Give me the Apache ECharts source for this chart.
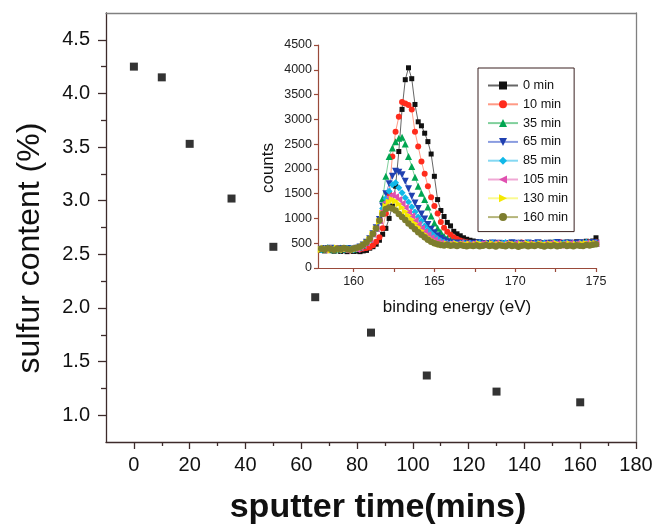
<!DOCTYPE html>
<html>
<head>
<meta charset="utf-8">
<script src="https://cdn.jsdelivr.net/npm/echarts@6/dist/echarts.min.js"></script>
<style>
html,body{margin:0;padding:0;background:#fff;}
#chart{width:658px;height:530px;}
</style>
</head>
<body>
<div id="chart"></div>
<script>
// ---- Main chart data: sulfur content vs sputter time ----
const sputterTime = [0, 10, 20, 35, 50, 65, 85, 105, 130, 160];
const sulfurContent = [4.25, 4.15, 3.53, 3.02, 2.57, 2.10, 1.77, 1.37, 1.22, 1.12];
const mainXTicks = [0, 20, 40, 60, 80, 100, 120, 140, 160, 180];
const mainXMinor = [10, 30, 50, 70, 90, 110, 130, 150, 170];
const mainYTicks = [1.0, 1.5, 2.0, 2.5, 3.0, 3.5, 4.0, 4.5];
const mainYMinor = [1.25, 1.75, 2.25, 2.75, 3.25, 3.75, 4.25];

// ---- Inset data: XPS S2p spectra ----
const insetXTicks = [160, 162.5, 165, 167.5, 170, 172.5, 175];
const insetXLabels = [160, 165, 170, 175];
const seriesNames = ['0 min', '10 min', '35 min', '65 min', '85 min', '105 min', '130 min', '160 min'];
const energy = [
  158,158.2,158.4,158.6,158.8,159,159.2,159.4,159.6,159.8,
  160,160.2,160.4,160.6,160.8,161,161.2,161.4,161.6,161.8,
  162,162.2,162.4,162.6,162.8,163,163.2,163.4,163.6,163.8,
  164,164.2,164.4,164.6,164.8,165,165.2,165.4,165.6,165.8,
  166,166.2,166.4,166.6,166.8,167,167.2,167.4,167.6,167.8,
  168,168.2,168.4,168.6,168.8,169,169.2,169.4,169.6,169.8,
  170,170.2,170.4,170.6,170.8,171,171.2,171.4,171.6,171.8,
  172,172.2,172.4,172.6,172.8,173,173.2,173.4,173.6,173.8,
  174,174.2,174.4,174.6,174.8,175
];
const counts0 = [
  360,345,370,350,340,355,335,350,330,345,
  335,340,330,345,355,400,430,480,560,680,
  800,1000,1250,1650,2350,3200,3800,4040,3820,3300,
  2950,2870,2720,2550,2300,1850,1380,1160,1040,920,
  850,740,690,650,610,580,560,545,530,520,
  510,505,490,500,515,480,495,505,490,470,
  500,485,510,495,480,505,490,515,500,485,
  495,520,505,490,510,500,525,495,510,530,
  505,520,540,515,545,610
];
const counts10 = [
  390,405,375,400,385,370,395,380,365,390,
  375,385,380,395,405,420,460,530,620,800,
  1100,1500,2250,2750,3050,3350,3320,3290,3200,2750,
  2450,2150,1900,1650,1430,1250,1100,930,810,730,
  670,620,585,555,535,520,510,500,490,505,
  480,495,510,485,500,470,495,480,505,490,
  475,500,515,485,495,470,500,490,510,480,
  495,505,485,500,520,490,510,495,480,505,
  515,490,500,525,510,530
];
const counts35 = [
  400,380,410,395,370,385,405,390,375,400,
  385,400,420,460,515,585,690,800,970,1400,
  1850,2250,2420,2550,2620,2640,2500,2250,2050,1830,
  1650,1510,1380,1230,1050,910,800,720,640,600,
  560,530,510,500,490,505,480,495,470,500,
  485,510,475,490,505,480,495,470,500,515,
  485,490,505,480,470,500,495,485,510,490,
  475,500,520,485,495,505,480,510,490,500,
  515,495,485,520,505,500
];
const counts65 = [
  380,395,370,400,385,365,390,375,395,370,
  385,400,425,465,520,590,690,810,980,1250,
  1500,1700,1850,1950,1930,1880,1750,1600,1450,1310,
  1200,1090,990,880,780,710,650,600,560,530,
  510,495,505,485,500,490,475,500,485,510,
  490,470,495,505,480,500,485,470,495,510,
  480,500,490,475,505,485,495,510,480,490,
  500,470,495,515,485,500,490,505,480,495,
  510,485,500,490,515,505
];
const counts85 = [
  370,390,405,380,395,375,360,385,400,380,
  370,395,415,460,510,580,685,800,960,1200,
  1400,1550,1680,1720,1620,1520,1420,1330,1230,1130,
  1030,950,850,770,700,640,590,550,520,500,
  490,505,480,495,510,485,500,470,490,505,
  485,495,475,510,490,480,500,515,485,470,
  495,505,480,490,510,475,495,500,485,505,
  470,490,515,495,480,500,510,485,495,475,
  505,490,520,500,485,510
];
const counts105 = [
  385,365,395,375,400,380,390,370,355,385,
  395,375,410,455,505,575,680,790,950,1150,
  1330,1430,1480,1440,1380,1300,1220,1130,1050,960,
  880,800,730,670,610,570,530,510,490,480,
  495,470,485,500,475,490,480,495,470,485,
  500,465,490,475,505,480,460,495,485,470,
  500,480,490,465,495,485,475,500,470,490,
  480,505,475,495,460,490,485,500,470,495,
  480,490,505,475,500,495
];
const counts130 = [
  375,400,385,360,390,405,380,370,395,385,
  365,390,405,450,500,570,675,785,940,1100,
  1250,1330,1380,1350,1290,1220,1140,1060,980,900,
  820,750,680,620,570,530,500,480,470,485,
  460,475,490,465,480,470,485,460,475,490,
  470,455,480,495,465,475,485,460,470,490,
  475,455,480,465,495,470,480,460,490,475,
  465,485,470,495,460,480,475,490,465,480,
  470,485,495,475,490,500
];
const counts160 = [
  390,375,400,385,365,395,380,405,385,370,
  395,410,430,470,520,590,690,800,960,1090,
  1190,1220,1200,1160,1090,1030,970,900,840,780,
  720,670,620,570,530,500,480,465,455,470,
  450,460,445,465,450,440,455,445,460,440,
  450,465,445,455,435,460,450,440,465,445,
  455,430,450,460,440,455,445,465,450,435,
  455,445,460,440,450,465,445,455,440,460,
  450,445,465,455,470,480
];
const insetCounts = [counts0, counts10, counts35, counts65, counts85, counts105, counts130, counts160];

// ---- Styles ----
const markerColors = ['#111111', '#ff2b1c', '#00a651', '#2040b0', '#10b8e8', '#e050b0', '#f5e800', '#7d7d2e'];
const lineColors = ['#666666', '#ff9a85', '#80d09c', '#8a9ce0', '#85d8f2', '#f0a8d5', '#fafa90', '#b5b57a'];
const symbols = ['rect', 'circle', 'triangle', 'triangle', 'diamond', 'triangle', 'triangle', 'circle'];
const rotations = [0, 0, 0, 180, 0, 90, -90, 0];
const sizes = [5, 6, 7, 7, 7, 7, 7, 6.5];

const FONT = 'Liberation Sans, Arial, Helvetica, sans-serif';
const axisDark = '#3d2b2b';
const insetAxis = '#9a4a3a';

const chart = echarts.init(document.getElementById('chart'), null, {renderer: 'canvas'});

const insetSeries = seriesNames.map((name, k) => ({
  name: name,
  type: 'line',
  xAxisIndex: 3,
  yAxisIndex: 3,
  data: energy.map((e, i) => [e, insetCounts[k][i]]),
  symbol: symbols[k],
  symbolRotate: rotations[k],
  symbolSize: sizes[k],
  showSymbol: true,
  lineStyle: {color: lineColors[k], width: 1},
  itemStyle: {color: markerColors[k]},
  emphasis: {disabled: true}
}));

const option = {
  animation: false,
  backgroundColor: '#ffffff',
  grid: [
    {left: 106, right: 22, top: 13, bottom: 88},
    {left: 318, right: 62, top: 45, bottom: 262}
  ],
  xAxis: [
    { // main bottom axis, major ticks + labels
      gridIndex: 0, type: 'value', min: -10, max: 180, position: 'bottom',
      axisLine: {show: true, onZero: false, lineStyle: {color: axisDark, width: 1.3}},
      axisTick: {show: true, customValues: mainXTicks, length: 7, inside: false, lineStyle: {color: axisDark, width: 1.3}},
      axisLabel: {show: true, customValues: mainXTicks, fontSize: 20, fontFamily: FONT, color: '#111', margin: 13},
      splitLine: {show: false}
    },
    { // main bottom axis, minor ticks
      gridIndex: 0, type: 'value', min: -10, max: 180, position: 'bottom',
      axisLine: {show: false, onZero: false},
      axisTick: {show: true, customValues: mainXMinor, length: 4, lineStyle: {color: axisDark, width: 1.3}},
      axisLabel: {show: false},
      splitLine: {show: false}
    },
    { // top frame
      gridIndex: 0, type: 'value', min: -10, max: 180, position: 'top',
      axisLine: {show: true, onZero: false, lineStyle: {color: '#808080', width: 1.3}},
      axisTick: {show: false}, axisLabel: {show: false}, splitLine: {show: false}
    },
    { // inset x axis
      gridIndex: 1, type: 'value', min: 157.8, max: 175, position: 'bottom',
      axisLine: {show: true, onZero: false, lineStyle: {color: insetAxis, width: 1.2}},
      axisTick: {show: true, customValues: insetXTicks, length: 4, lineStyle: {color: insetAxis, width: 1.2}},
      axisLabel: {show: true, customValues: insetXLabels, fontSize: 12.5, fontFamily: FONT, color: '#222', margin: 7},
      splitLine: {show: false}
    }
  ],
  yAxis: [
    { // main left axis, majors + labels
      gridIndex: 0, type: 'value', min: 0.75, max: 4.75, position: 'left',
      axisLine: {show: true, onZero: false, lineStyle: {color: axisDark, width: 1.3}},
      axisTick: {show: true, customValues: mainYTicks, length: 8, lineStyle: {color: axisDark, width: 1.3}},
      axisLabel: {show: true, customValues: mainYTicks, fontSize: 20, fontFamily: FONT, color: '#111', margin: 16,
        formatter: v => v.toFixed(1)},
      splitLine: {show: false}
    },
    { // main left axis, minor ticks
      gridIndex: 0, type: 'value', min: 0.75, max: 4.75, position: 'left',
      axisLine: {show: false, onZero: false},
      axisTick: {show: true, customValues: mainYMinor, length: 5, lineStyle: {color: axisDark, width: 1.3}},
      axisLabel: {show: false}, splitLine: {show: false}
    },
    { // right frame
      gridIndex: 0, type: 'value', min: 0.75, max: 4.75, position: 'right',
      axisLine: {show: true, onZero: false, lineStyle: {color: '#808080', width: 1.3}},
      axisTick: {show: false}, axisLabel: {show: false}, splitLine: {show: false}
    },
    { // inset y axis
      gridIndex: 1, type: 'value', min: 0, max: 4500, interval: 500, position: 'left',
      axisLine: {show: true, onZero: false, lineStyle: {color: insetAxis, width: 1.2}},
      axisTick: {show: true, length: 4, lineStyle: {color: insetAxis, width: 1.2}},
      axisLabel: {show: true, fontSize: 12.5, fontFamily: FONT, color: '#222', margin: 6,
        formatter: v => String(v)},
      splitLine: {show: false}
    }
  ],
  legend: {
    data: seriesNames,
    orient: 'vertical',
    left: 478, top: 68,
    padding: [11, 6, 8, 9],
    itemWidth: 30, itemHeight: 10, itemGap: 5.8,
    borderColor: '#3a2020', borderWidth: 1,
    backgroundColor: '#ffffff',
    textStyle: {fontSize: 12.7, fontFamily: FONT, color: '#111'},
    selectedMode: false
  },
  graphic: [
    {type: 'text', x: 30, y: 248, rotation: Math.PI / 2,
      style: {text: 'sulfur content (%)', font: '32px ' + FONT, fill: '#111', textAlign: 'center', textVerticalAlign: 'middle'}},
    {type: 'text', x: 378, y: 508,
      style: {text: 'sputter time(mins)', font: 'bold 34px ' + FONT, fill: '#111', textAlign: 'center', textVerticalAlign: 'middle'}},
    {type: 'text', x: 268, y: 168, rotation: Math.PI / 2,
      style: {text: 'counts', font: '17px ' + FONT, fill: '#111', textAlign: 'center', textVerticalAlign: 'middle'}},
    {type: 'text', x: 457, y: 307,
      style: {text: 'binding energy (eV)', font: '17px ' + FONT, fill: '#111', textAlign: 'center', textVerticalAlign: 'middle'}}
  ],
  series: [
    {
      name: 'sulfur content',
      type: 'scatter',
      xAxisIndex: 0, yAxisIndex: 0,
      data: sputterTime.map((t, i) => [t, sulfurContent[i]]),
      symbol: 'rect', symbolSize: 8,
      itemStyle: {color: '#000'},
      emphasis: {disabled: true}
    }
  ].concat(insetSeries)
};

chart.setOption(option);
</script>
</body>
</html>
